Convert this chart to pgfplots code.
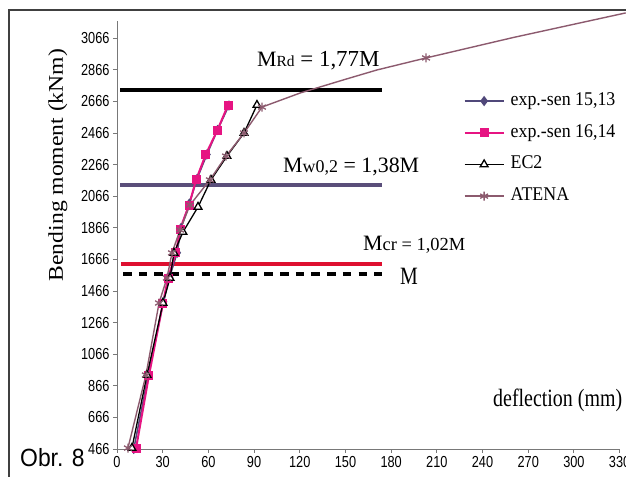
\documentclass[border=0pt]{standalone}
\usepackage{pgfplots}
\pgfplotsset{compat=1.18}
\usepackage{fontspec}
\setmainfont{Liberation Serif}
\newfontfamily\serifc[FakeStretch=0.8]{Liberation Serif}
\newfontfamily\seriflab[FakeStretch=1.13]{Liberation Serif}
\newfontfamily\serifleg[FakeStretch=0.92]{Liberation Serif}
\newfontfamily\tickfont[FakeStretch=0.8]{Liberation Sans}
\newfontfamily\obrfont[FakeStretch=0.92]{Liberation Sans}
\definecolor{cPurple}{RGB}{80,72,122}
\definecolor{cMag}{RGB}{230,20,130}
\definecolor{cRed}{RGB}{222,16,48}
\definecolor{cAtena}{RGB}{140,90,110}
\definecolor{cMw}{RGB}{90,78,122}
\definecolor{cAxis}{RGB}{120,120,120}

\begin{document}
\begin{tikzpicture}
\begin{axis}[
  scale only axis, width=502.6bp, height=428bp,
  xmin=0, xmax=330, ymin=466, ymax=3175,
  axis lines*=left,
  axis line style={draw=cAxis, line width=0.9pt},
  xtick={0,30,60,90,120,150,180,210,240,270,300,330},
  ytick={466,666,866,1066,1266,1466,1666,1866,2066,2266,2466,2666,2866,3066},
  tick align=outside, major tick length=4bp,
  tick style={draw=cAxis, line width=0.9pt},
  ticklabel style={font=\fontsize{16}{17}\tickfont},
  /pgf/number format/assume math mode=true,
  /pgf/number format/1000 sep={},
  clip=false,
  legend style={at={(axis cs:225.5,2736)}, anchor=north west, draw=none, fill=none,
    font=\fontsize{19.5}{20}\serifleg, row sep=14.7bp,
    nodes={inner sep=0pt, text height=13bp, text depth=4bp},
    /tikz/every odd column/.append style={column sep=6bp}},
  legend cell align=left,
  legend image code/.code={\draw[#1, mark indices={2}] plot coordinates {(0bp,0bp) (19.5bp,0bp) (39bp,0bp)};},
]
% reference lines
\addplot[black, line width=4bp, forget plot] coordinates {(2,2736) (174,2736)};
\addplot[cMw, line width=3.6bp, forget plot] coordinates {(2,2137) (174,2137)};
\addplot[cRed, line width=3.6bp, forget plot] coordinates {(2.5,1637) (174,1637)};
\addplot[black, line width=3.6bp, dash pattern=on 8.5bp off 7.2bp, forget plot] coordinates {(4,1574) (174,1574)};

\addplot[cPurple, line width=1.5bp, mark=diamond*, mark size=4bp, mark options={solid, fill=cPurple}] coordinates {
 (11,466) (20.5,932) (30.5,1398) (34.5,1553) (39.5,1708) (42,1864) (47.5,2019) (52.5,2174) (59,2330) (66,2485) (73.5,2640)};
\addlegendentry{exp.-sen 15,13}
\addplot[cMag, line width=2bp, mark=square*, mark size=3.5bp, mark options={solid, fill=cMag}] coordinates {
 (12.5,470) (21,932) (30.2,1390) (33.5,1548) (38.7,1707) (41.4,1858) (47.3,2010) (51.9,2169) (58.4,2333) (65.7,2479) (72.9,2643)};
\addlegendentry{exp.-sen 16,14}
\addplot[black, line width=1.3bp, mark=triangle*, mark size=4.5bp, mark options={solid, fill=white, line width=1.3bp}] coordinates {
 (9.8,472) (19.7,934) (30.2,1390) (34.8,1548) (37.4,1707) (43.3,1839) (53.2,1998) (61.7,2169) (72.2,2320) (83.4,2466) (91.9,2643)};
\addlegendentry{EC2}
\addplot[cAtena, line width=1.4bp, mark=asterisk, mark size=4.5bp, mark options={solid, line width=1.3bp},
  mark indices={1,2,3,4,5,6,7,8,9,10,11,15}] coordinates {
 (7.2,472) (19,934) (27.6,1390) (32.8,1548) (36.1,1707) (41.4,1852) (47.9,2010) (61,2169) (71.6,2320) (83.4,2466) (95.2,2630)
 (120.2,2719) (150,2806) (170.7,2865) (202.9,2941) (260,3070) (334,3226)};
\addlegendentry{ATENA}

% annotations
\node[anchor=base west, inner sep=0pt] at (axis cs:91.9,2890)
  {\fontsize{22}{22}\selectfont M\fontsize{15.5}{16}\selectfont Rd\fontsize{23}{23}\selectfont{} = 1,77M};
\node[anchor=base west, inner sep=0pt] at (axis cs:109,2213)
  {\fontsize{22}{22}\selectfont M\fontsize{18}{18}\selectfont w0,2\fontsize{22}{22}\selectfont{} = 1,38M};
\node[anchor=base west, inner sep=0pt] at (axis cs:161.5,1725)
  {\fontsize{22}{22}\selectfont M\fontsize{18.5}{19}\selectfont cr = 1,02M};
\node[anchor=base west, inner sep=0pt] at (axis cs:185.8,1504)
  {\fontsize{25}{25}\serifc M};
\node[anchor=base west, inner sep=0pt] at (axis cs:246.9,732)
  {\fontsize{25}{25}\serifc deflection (mm)};
\node[anchor=base west, inner sep=0pt] at (axis cs:-63.7,358)
  {\fontsize{25}{25}\obrfont Obr. 8};
\node[anchor=base, rotate=90, inner sep=0pt] at (axis cs:-35.5,2263)
  {\fontsize{21}{21}\seriflab Bending moment (kNm)};

% outer frame
\draw[draw=black!75, line width=1.5bp] (axis cs:400,3244) -- (axis cs:-70.9,3244) -- (axis cs:-70.9,0);

\coordinate (bbA) at (axis cs:-76.82,288.8);
\coordinate (bbB) at (axis cs:334.2,3307.8);
\end{axis}
\pgfresetboundingbox
\path[use as bounding box] (bbA) rectangle (bbB);
\end{tikzpicture}
\end{document}
